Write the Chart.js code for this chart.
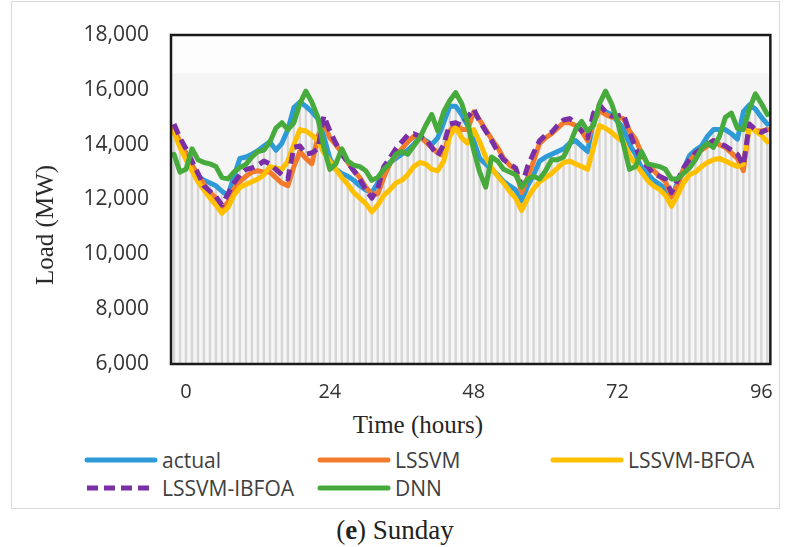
<!DOCTYPE html>
<html>
<head>
<meta charset="utf-8">
<script src="https://cdn.jsdelivr.net/npm/chart.js@4/dist/chart.umd.min.js"></script>
<style>
    html, body { margin: 0; padding: 0; background: #fff; }
    #wrap { position: relative; width: 789px; height: 547px; overflow: hidden; }
    #frame { position: absolute; left: 11px; top: 1px; width: 767px; height: 506px; border: 1px solid #d9d9d9; }
    #chart { position: absolute; left: 0; top: 0; }
    .title { position: absolute; font-family: "Liberation Serif", serif; font-size: 25px; color: #262626; white-space: nowrap; }
    #ytitle { left: 45px; top: 225px; transform: translate(-50%, -50%) rotate(-90deg); }
    #xtitle { left: 418px; top: 425px; transform: translate(-50%, -50%); }
    #caption { left: 395px; top: 530px; transform: translate(-50%, -50%); font-size: 27px; color: #222; }
    #legend { position: absolute; left: 84px; top: 446px; display: grid; grid-template-columns: 233px 233px 233px; grid-auto-rows: 28px; }
    .item { display: flex; align-items: center; font-family: "Open Sans", sans-serif; font-size: 21px; color: #404040; white-space: nowrap; }
    .item svg { margin-right: 4px; }
</style>
</head>
<body>
<div id="wrap">
    <div id="frame"></div>
    <canvas id="chart" width="789" height="400"></canvas>
    <div class="title" id="ytitle">Load (MW)</div>
    <div class="title" id="xtitle">Time (hours)</div>
    <div id="legend"></div>
    <div class="title" id="caption">(<b>e</b>) Sunday</div>
</div>
<script>
    // hours shown on the category axis, -2 .. 97
    const hours = Array.from({ length: 100 }, (_, i) => i - 2);
    const tickHours = [0, 24, 48, 72, 96];
    const yTicks = [6000, 8000, 10000, 12000, 14000, 16000, 18000];
    const bandTop = 16600;

    const actual = [
        14450, 14050, 13700, 13250, 12850, 12700, 12600, 12500, 12300, 12150,
        12850, 13500, 13550, 13650, 13780, 13950, 14100, 13800, 14050, 14550,
        15350, 15550, 15400, 15200, 14950, 14300, 13500, 13100, 12950, 12850,
        12700, 12500, 12350, 12250, 12600, 13050, 13350, 13500, 13650, 13800,
        14000, 14300, 14150, 14000, 14250, 14800, 15400, 15400, 15100, 14700,
        14150, 13500, 13300, 13100, 12900, 12650, 12500, 12350, 11950, 12500,
        12900, 13400, 13550, 13650, 13750, 13850, 14050, 14150, 13950, 13750,
        14900, 15300, 15200, 15100, 14850, 14600, 14000, 13650, 13150, 12950,
        12700, 12550, 12400, 12100, 12600, 13100, 13600, 13800, 13950, 14300,
        14550, 14550, 14550, 14400, 14200, 15200, 15450, 15300, 15000, 14750
    ];
    const lssvm = [
        14600, 14100, 13650, 13250, 12900, 12550, 12250, 12050, 11650, 11900,
        12400, 12650, 12850, 13000, 13050, 13000, 13000, 12800, 12600, 12500,
        13200, 13750, 13500, 13300, 14300, 14800, 14250, 14000, 13700, 13350,
        13050, 12800, 12450, 12200, 12200, 12800, 13300, 13600, 13850, 14100,
        14300, 14300, 14100, 13900, 13700, 13600, 14500, 14750, 14550, 14550,
        15200, 14900, 14550, 14200, 13900, 13500, 13250, 13100, 12250, 12800,
        13400, 14050, 14250, 14400, 14600, 14800, 14800, 14700, 14500, 14150,
        14800, 15250, 15100, 15000, 15000, 14950, 14500, 14200, 13700, 13300,
        13050, 12850, 12650, 12100, 12500, 13100, 13400, 13650, 13800, 13950,
        14150, 14000, 13900, 13700, 13500, 13050, 14750, 14500, 14500, 14550
    ];
    const lssvmBfoa = [
        14450, 13900, 13450, 13050, 12650, 12350, 12050, 11800, 11500, 11700,
        12150, 12450, 12550, 12650, 12750, 12900, 13200, 13150, 13100, 13400,
        14000, 14550, 14500, 14350, 14150, 13700, 13400, 13100, 12800, 12550,
        12250, 12050, 11850, 11550, 11800, 12150, 12350, 12600, 12700, 12900,
        13200, 13350, 13300, 13100, 13050, 13400, 14300, 14650, 14250, 14050,
        14550, 14100, 13550, 13150, 12850, 12600, 12300, 12050, 11600, 12050,
        12400, 12650, 12800, 12950, 13150, 13350, 13400, 13300, 13200, 13100,
        13900, 14700, 14600, 14450, 14250, 14100, 13600, 13300, 13000, 12700,
        12500, 12370, 12150, 11750, 12150, 12600, 12900, 13000, 13200, 13350,
        13450, 13500, 13400, 13300, 13200, 13300, 14650, 14500, 14350, 14100
    ];
    const lssvmIbfoa = [
        14750, 14250, 13850, 13400, 12950, 12500, 12300, 12100, 11800, 12200,
        12600, 12900, 13100, 13150, 13250, 13400, 13300, 13100, 12900, 12750,
        13900, 13950, 13650, 13700, 13850, 15050, 14500, 14050, 13650, 13350,
        13050, 12750, 12350, 12050, 12400, 13200, 13500, 13850, 14100, 14350,
        14400, 14300, 14200, 13900, 13600, 14000, 14750, 14800, 14700, 15000,
        15300, 14850, 14500, 14150, 13750, 13450, 13300, 13150, 12500, 13200,
        13700, 14150, 14350, 14450, 14700, 14900, 14950, 14800, 14500, 14250,
        15150, 15450, 15200, 15050, 15050, 15100, 14450, 13900, 13400, 13200,
        12950, 12850, 12750, 12250, 12700, 13150, 13450, 13700, 13850, 14000,
        14150, 14050, 13950, 13800, 13650, 13250, 14750, 14550, 14450, 14550
    ];
    const dnn = [
        13650, 13000, 13100, 13850, 13450, 13350, 13300, 13200, 12800, 12750,
        13000, 13170, 13280, 13550, 13750, 13800, 14100, 14600, 14800, 14550,
        14800, 15500, 15950, 15550, 15000, 13900, 13100, 13300, 13850, 13400,
        13250, 13200, 13050, 12700, 12800, 13100, 13300, 13650, 13750, 13650,
        13950, 14250, 14700, 15100, 14500, 15200, 15600, 15900, 15500, 14800,
        13800, 13000, 12450, 13550, 13400, 13100, 13000, 12900, 12450, 12750,
        12850, 12750, 13050, 13450, 13450, 13550, 14000, 14550, 14850, 14500,
        14700, 15500, 15950, 15500, 14850, 14000, 13100, 13200, 13750, 13300,
        13250, 13200, 13100, 12750, 12750, 12950, 13150, 13450, 13850, 14050,
        13900, 14300, 15000, 15150, 14600, 14550, 15300, 15850, 15500, 15100
    ];

    const plotDecor = {
        id: 'plotDecor',
        beforeDatasetsDraw(chart) {
            const { ctx, chartArea: a, scales: { y } } = chart;
            const top = y.getPixelForValue(bandTop);
            ctx.save();
            ctx.fillStyle = '#fdfdfd';
            ctx.fillRect(a.left, a.top, a.width, a.height);
            ctx.fillStyle = '#f5f5f5';
            ctx.fillRect(a.left, top, a.width, a.bottom - top);
            ctx.restore();
        },
        afterDatasetsDraw(chart) {
            const { ctx, chartArea: a } = chart;
            ctx.save();
            ctx.strokeStyle = '#1a1a1a';
            ctx.lineWidth = 2.5;
            ctx.strokeRect(a.left, a.top, a.width, a.height);
            ctx.restore();
        }
    };

    function lineSet(label, data, color, order, dash) {
        return {
            type: 'line',
            label: label,
            data: data,
            borderColor: color,
            backgroundColor: color,
            borderWidth: 5,
            borderDash: dash || [],
            borderCapStyle: dash ? 'butt' : 'round',
            borderJoinStyle: 'round',
            pointRadius: 0,
            tension: 0,
            fill: false,
            order: order
        };
    }

    const chart = new Chart(document.getElementById('chart'), {
        data: {
            labels: hours,
            datasets: [
                lineSet('actual', actual, '#2e9bd8', 5),
                lineSet('LSSVM', lssvm, '#f27b2c', 4),
                lineSet('LSSVM-BFOA', lssvmBfoa, '#ffc000', 3),
                lineSet('LSSVM-IBFOA', lssvmIbfoa, '#7a2fa6', 2, [11, 6]),
                lineSet('DNN', dnn, '#47aa3c', 1),
                {
                    type: 'bar',
                    label: 'stripes',
                    data: actual,
                    backgroundColor: '#d6d6d6',
                    barPercentage: 0.4,
                    categoryPercentage: 1,
                    order: 10
                }
            ]
        },
        options: {
            responsive: false,
            animation: false,
            layout: { padding: { top: 35, right: 13, left: 0, bottom: 0 } },
            plugins: {
                legend: { display: false },
                tooltip: { enabled: false }
            },
            scales: {
                x: {
                    grid: { display: false, drawTicks: false },
                    border: { display: false },
                    ticks: {
                        autoSkip: false,
                        maxRotation: 0,
                        padding: 16,
                        color: '#333',
                        font: { family: 'Open Sans', size: 20 },
                        callback: function(value) {
                            const h = hours[value];
                            return tickHours.includes(h) ? String(h) : null;
                        }
                    },
                    afterFit: function(scale) { scale.height = 36; }
                },
                y: {
                    min: yTicks[0],
                    max: yTicks[yTicks.length - 1],
                    grid: { display: false, drawTicks: false },
                    border: { display: false },
                    afterBuildTicks: function(scale) {
                        scale.ticks = yTicks.map(v => ({ value: v }));
                    },
                    ticks: {
                        padding: 22,
                        color: '#333',
                        font: { family: 'Open Sans', size: 21 },
                        callback: function(value) {
                            return value.toLocaleString('en-US');
                        }
                    },
                    afterFit: function(scale) { scale.width = 171; }
                }
            }
        },
        plugins: [plotDecor]
    });

    // HTML legend in the same 3-column layout as the figure
    const legend = document.getElementById('legend');
    chart.data.datasets.filter(d => d.type === 'line').forEach(d => {
        const item = document.createElement('div');
        item.className = 'item';
        const dash = d.borderDash.length ? ` stroke-dasharray="${d.borderDash.join(' ')}"` : '';
        const cap = d.borderDash.length ? 'butt' : 'round';
        item.innerHTML = `<svg width="74" height="10"><line x1="3" y1="5" x2="71" y2="5" stroke="${d.borderColor}" stroke-width="5" stroke-linecap="${cap}"${dash}/></svg>${d.label}`;
        legend.appendChild(item);
    });
</script>
</body>
</html>
